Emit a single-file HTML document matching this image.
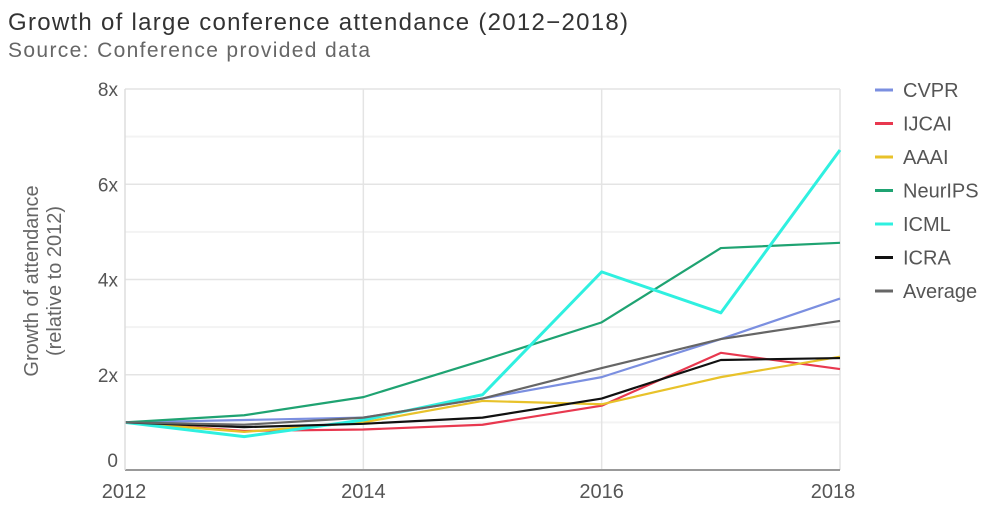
<!DOCTYPE html>
<html><head><meta charset="utf-8"><style>
body{margin:0;background:#fff;font-family:"Liberation Sans",sans-serif;}
</style></head><body>
<svg id="c" width="995" height="505" xmlns="http://www.w3.org/2000/svg" font-family="Liberation Sans, sans-serif">
<text x="8" y="30" font-size="24" fill="#333" textLength="620">Growth of large conference attendance (2012−2018)</text>
<text x="8" y="57" font-size="21" fill="#666" textLength="362">Source: Conference provided data</text>
<g transform="translate(38,281) rotate(-90)">
<text x="0" y="0" font-size="20" fill="#666" text-anchor="middle">Growth of attendance</text>
<text x="0" y="23" font-size="20" fill="#666" text-anchor="middle">(relative to 2012)</text>
</g>
<g id="grid"></g><g id="lines"></g><g id="axes"></g><g id="legend"></g>
</svg>
<script>
const years=[2012,2013,2014,2015,2016,2017,2018];
const yTicks=[0,2,4,6,8];
const yTickLabels=["0","2x","4x","6x","8x"];
const xTicks=[2012,2014,2016,2018];
const seriesNames=["CVPR","IJCAI","AAAI","NeurIPS","ICML","ICRA","Average"];
const seriesColors=["#7b8fe0","#e8384f","#e8c22a","#1fa372","#2ff0e0","#111111","#666666"];
const cvpr=[1,1.05,1.1,1.5,1.95,2.75,3.6];
const ijcai=[1,0.82,0.85,0.95,1.35,2.46,2.12];
const aaai=[1,0.8,1.0,1.45,1.38,1.95,2.38];
const neurips=[1,1.15,1.53,2.3,3.1,4.66,4.77];
const icml=[1,0.7,1.05,1.58,4.16,3.3,6.72];
const icra=[1,0.9,0.97,1.1,1.5,2.31,2.35];
const average=[1,0.95,1.1,1.5,2.14,2.75,3.13];
const allSeries=[cvpr,ijcai,aaai,neurips,icml,icra,average];
const ns="http://www.w3.org/2000/svg";
const X0=125,X1=840,Y0=470,Y1=89;
function xs(y){return X0+(y-2012)/6*(X1-X0);}
function ys(v){return Y0-v/8*(Y0-Y1);}
function mk(t,a,p){const e=document.createElementNS(ns,t);for(const k in a)e.setAttribute(k,a[k]);p.appendChild(e);return e;}
const grid=document.getElementById('grid'),axes=document.getElementById('axes'),lines=document.getElementById('lines'),legend=document.getElementById('legend');
for(let v=1;v<=8;v++){const l=mk('line',{x1:X0,x2:X1,y1:ys(v),y2:ys(v),stroke:v%2?'#f3f3f3':'#e4e4e4','stroke-width':v%2?2:1.5},grid);

}
xTicks.forEach(t=>{if(t===2012)return;const l=mk('line',{x1:xs(t),x2:xs(t),y1:Y1,y2:Y0,stroke:'#e4e4e4','stroke-width':1.5},grid);

});
const ax=mk('line',{x1:X0,x2:X1,y1:Y0,y2:Y0,stroke:'#999','stroke-width':2},axes);


const ay=mk('line',{x1:X0,x2:X0,y1:Y1,y2:Y0,stroke:'#ddd','stroke-width':1.5},axes);


yTicks.forEach((v,i)=>{const t=mk('text',{x:118,y:ys(v)+(v===0?-3:7),'font-size':19,fill:'#555','text-anchor':'end'},axes);t.textContent=yTickLabels[i];

});
xTicks.forEach(v=>{const t=mk('text',{x:v===2012?124:(v===2018?833:xs(v)),y:498,'font-size':20,fill:'#555','text-anchor':'middle'},axes);t.textContent=v;

});
allSeries.forEach((s,i)=>{const p=mk('polyline',{points:s.map((v,j)=>xs(years[j])+','+ys(v)).join(' '),fill:'none',stroke:seriesColors[i],'stroke-width':i===4?3:2.2,'stroke-linejoin':'round'},lines);


const ly=90+i*33.5;
const g=mk('g',{},legend);


mk('line',{x1:875,x2:893,y1:ly,y2:ly,stroke:seriesColors[i],'stroke-width':3},g);
const t=mk('text',{x:903,y:ly+7,'font-size':20,fill:'#555'},g);t.textContent=seriesNames[i];});
</script>
</body></html>
